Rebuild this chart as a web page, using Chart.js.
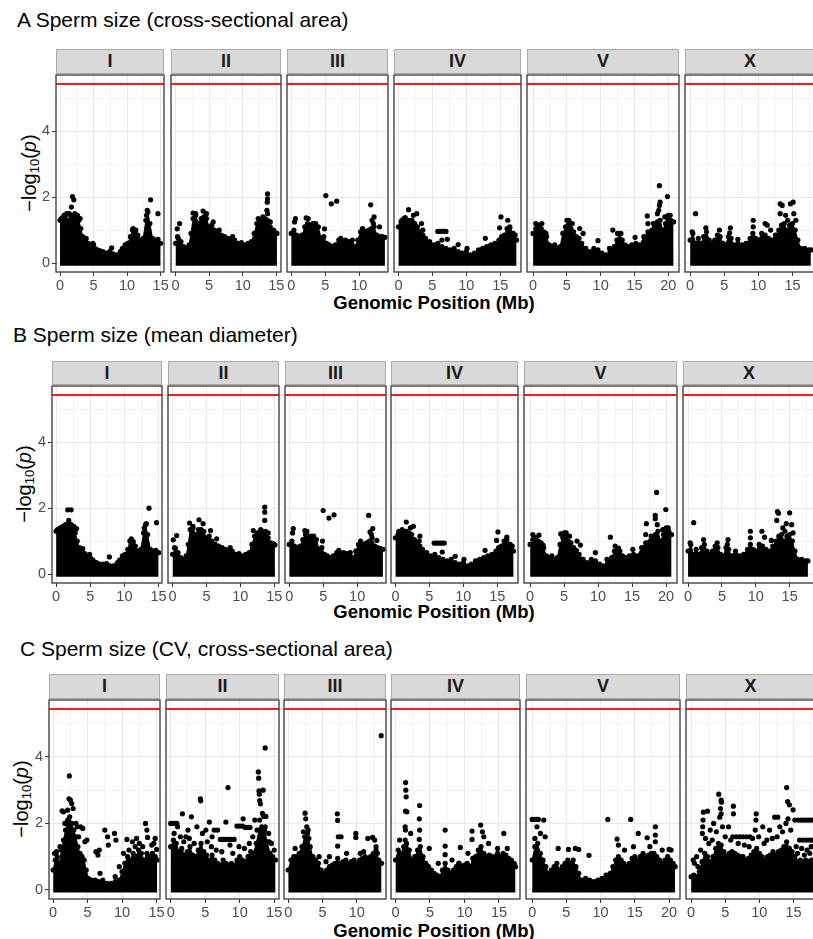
<!DOCTYPE html>
<html>
<head>
<meta charset="utf-8">
<script src="https://cdn.jsdelivr.net/npm/chart.js@4.4.1/dist/chart.umd.min.js"></script>
<style>
  body { margin: 0; width: 813px; height: 939px; overflow: hidden; background: #fff;
         position: relative; font-family: 'Liberation Sans', Arial, sans-serif; }
  canvas { position: absolute; }
  .title { position: absolute; font-size: 21px; line-height: 21px; color: #000; white-space: nowrap; }
  .strip { position: absolute; box-sizing: border-box; background: #d9d9d9; border: 1px solid #aaa;
           font-weight: bold; font-size: 18px; color: #1a1a1a; display: flex;
           align-items: center; justify-content: center; }
  .ytitle { position: absolute; font-size: 20px; white-space: nowrap; color: #000;
            transform: translate(-50%, -50%) rotate(-90deg); }
  .ytitle sub { font-size: 0.65em; vertical-align: -0.25em; }
  .xtitle { position: absolute; font-size: 18.5px; font-weight: bold; white-space: nowrap;
            transform: translate(-50%, -50%); }
</style>
</head>
<body>
<script>
// 染色体ごとのパネル
const chromosomes = ['I', 'II', 'III', 'IV', 'V', 'X'];
const xMin = [-0.6, -0.68, -0.62, -0.65, -0.9, -0.75];
const xMax = [15.5, 15.7, 14.25, 18.05, 21.6, 18.6];
const threshold = 5.44;
const xMajorTicks = [0, 5, 10, 15, 20];
const xMinorTicks = [2.5, 7.5, 12.5, 17.5];
const yMajorTicks = [0, 2, 4];
const yMinorTicks = [1, 3, 5];
const panelTitles = ['A Sperm size (cross-sectional area)', 'B Sperm size (mean diameter)', 'C Sperm size (CV, cross-sectional area)'];

// A: 密集部分の上端 (core) と散らばった点 (dots)  [Mb, -log10 p]
const areaCoreI = [[0,1.3],[0.4,1.38],[0.8,1.42],[1.2,1.3],[1.6,1.45],[2.0,1.35],[2.4,1.4],[2.8,1.3],[3.1,1.05],[3.4,0.8],[3.8,0.7],[4.2,0.6],[4.6,0.55],[5.0,0.55],[5.4,0.42],[5.9,0.38],[6.4,0.35],[6.9,0.3],[7.4,0.35],[7.9,0.28],[8.4,0.25],[8.9,0.28],[9.3,0.45],[9.7,0.55],[10.1,0.6],[10.5,0.8],[10.8,1.0],[11.2,0.95],[11.6,0.85],[12.0,0.7],[12.4,0.75],[12.8,1.3],[13.1,1.55],[13.4,1.2],[13.8,0.75],[14.2,0.7],[14.6,0.72],[15.0,0.6]];
const areaDotsI = [[1.86,2.02],[2.06,1.92],[1.7,1.7],[1.37,1.5],[1.0,1.5],[3.0,1.35],[2.6,1.45],[3.9,0.75],[4.9,0.6],[7.7,0.46],[9.0,0.35],[10.9,1.05],[11.3,1.0],[12.9,1.45],[13.0,1.6],[13.5,1.92],[14.6,1.5],[0.2,1.35],[0.6,1.45],[2.2,1.5]];
const areaCoreII = [[0,0.6],[0.4,0.75],[0.8,0.65],[1.2,0.5],[1.6,0.45],[2.0,0.55],[2.3,0.9],[2.6,1.35],[3.0,1.45],[3.4,1.2],[3.8,1.35],[4.2,1.4],[4.6,1.35],[5.0,1.1],[5.4,1.15],[5.8,1.0],[6.3,0.9],[6.8,0.85],[7.3,0.8],[7.8,0.75],[8.3,0.7],[8.8,0.7],[9.3,0.6],[9.8,0.62],[10.3,0.55],[10.8,0.6],[11.3,0.65],[11.7,0.9],[12.1,1.2],[12.5,1.3],[12.9,1.25],[13.3,1.35],[13.7,1.3],[14.1,1.1],[14.5,0.95],[14.9,0.92],[15.1,0.9]];
const areaDotsII = [[0.25,1.04],[0.6,1.2],[0.3,0.8],[2.6,1.52],[3.0,1.5],[4.1,1.58],[4.6,1.5],[5.6,1.25],[6.5,1.0],[8.5,0.8],[12.3,1.35],[13.7,2.1],[13.7,1.95],[13.65,1.85],[13.6,1.6],[13.7,1.5],[14.1,1.25],[14.6,1.0],[13.0,1.4]];
const areaCoreIII = [[0,0.9],[0.4,1.0],[0.8,0.85],[1.2,0.8],[1.6,0.85],[2.0,1.1],[2.4,1.2],[2.8,1.15],[3.2,1.2],[3.6,1.2],[4.0,1.1],[4.4,0.75],[4.8,0.8],[5.2,0.6],[5.6,0.55],[6.0,0.5],[6.5,0.55],[7.0,0.7],[7.5,0.65],[8.0,0.7],[8.5,0.65],[9.0,0.7],[9.4,0.5],[9.8,0.7],[10.2,0.95],[10.6,1.0],[11.0,0.95],[11.4,1.0],[11.8,1.05],[12.2,1.1],[12.6,0.85],[13.0,0.8],[13.4,0.8],[13.8,0.78]];
const areaDotsIII = [[0.63,1.35],[0.5,1.25],[2.2,1.37],[2.5,1.35],[3.3,1.2],[4.9,1.04],[5.1,2.05],[5.9,1.8],[6.7,1.88],[11.7,1.77],[12.2,1.4],[11.9,1.3],[12.1,1.2],[13.0,1.1],[7.3,0.75],[10.5,1.05]];
const areaCoreIV = [[0,1.1],[0.4,1.25],[0.8,1.35],[1.2,1.25],[1.6,1.3],[2.0,1.3],[2.4,1.2],[2.8,1.1],[3.2,0.95],[3.6,0.85],[4.0,0.75],[4.6,0.65],[5.2,0.55],[5.8,0.6],[6.4,0.5],[7.0,0.45],[7.6,0.4],[8.2,0.45],[8.8,0.35],[9.4,0.3],[10.0,0.35],[10.6,0.25],[11.2,0.3],[11.8,0.4],[12.4,0.45],[13.0,0.5],[13.6,0.55],[14.2,0.6],[14.8,0.7],[15.2,0.8],[15.6,0.85],[16.0,1.05],[16.4,1.1],[16.8,0.9],[17.2,0.85],[17.4,0.7]];
const areaDotsIV = [[1.5,1.62],[2.7,1.5],[2.2,1.45],[0.5,1.3],[1.0,1.38],[3.4,1.2],[3.6,1.0],[5.8,0.96],[6.1,0.96],[6.4,0.96],[6.7,0.96],[7.0,0.96],[6.4,0.7],[7.2,0.72],[8.8,0.56],[10.1,0.45],[12.8,0.75],[15.1,1.4],[16.1,1.3],[16.4,1.07],[14.9,1.07],[16.9,0.9]];
const areaCoreV = [[0,0.9],[0.4,1.05],[0.8,1.1],[1.2,1.05],[1.6,0.95],[2.0,0.8],[2.4,0.55],[2.8,0.5],[3.2,0.55],[3.6,0.45],[4.0,0.5],[4.4,0.9],[4.8,1.1],[5.2,1.15],[5.6,1.05],[6.0,0.95],[6.4,0.8],[6.8,0.75],[7.2,0.6],[7.8,0.45],[8.4,0.35],[9.0,0.45],[9.6,0.4],[10.2,0.3],[10.8,0.25],[11.4,0.35],[12.0,0.5],[12.4,0.7],[12.8,0.75],[13.2,0.7],[13.6,0.55],[14.0,0.5],[14.6,0.55],[15.2,0.6],[15.8,0.55],[16.4,0.8],[17.0,0.95],[17.6,1.0],[18.0,1.1],[18.4,1.25],[18.8,1.3],[19.2,1.0],[19.6,1.2],[20.0,1.3],[20.4,1.3],[20.8,1.25]];
const areaDotsV = [[0.4,1.2],[1.3,1.2],[0.8,1.15],[1.9,0.9],[5.0,1.3],[5.3,1.3],[5.8,1.2],[6.9,1.05],[7.4,0.9],[9.6,0.68],[11.3,0.45],[11.8,1.0],[12.5,0.9],[13.0,0.9],[15.1,0.78],[16.9,1.43],[17.0,1.2],[18.6,1.6],[18.7,1.75],[18.8,1.85],[18.7,2.35],[19.9,2.02],[18.4,1.5],[20.3,1.45],[20.0,1.45],[19.5,1.4],[17.8,1.2]];
const areaCoreX = [[0,0.7],[0.4,0.9],[0.8,0.6],[1.2,0.75],[1.6,0.6],[2.0,0.8],[2.4,0.95],[2.8,0.7],[3.2,0.6],[3.6,0.7],[4.0,0.85],[4.4,0.8],[4.8,0.6],[5.2,0.55],[5.6,0.8],[6.0,0.75],[6.4,0.55],[7.0,0.6],[7.6,0.55],[8.2,0.6],[8.8,0.75],[9.2,0.9],[9.6,0.75],[10.0,0.7],[10.5,0.9],[11.0,0.85],[11.5,0.75],[12.0,0.7],[12.5,0.85],[13.0,1.0],[13.4,1.15],[13.8,1.2],[14.2,1.0],[14.6,1.15],[15.0,1.2],[15.4,1.0],[15.8,0.7],[16.2,0.45],[16.8,0.45],[17.4,0.4],[17.7,0.4]];
const areaDotsX = [[0.8,1.5],[0.3,0.95],[2.3,1.07],[4.3,1.0],[5.9,1.07],[5.8,0.92],[7.0,0.72],[9.25,1.3],[9.25,1.1],[11.0,1.2],[11.3,1.15],[11.8,1.0],[13.2,1.8],[13.5,1.75],[14.7,1.8],[15.1,1.85],[13.2,1.5],[14.3,1.3],[15.2,1.5],[15.5,1.3],[14.0,1.45]];

// B: mean diameter
const diamCoreI = [[0,1.3],[0.4,1.35],[0.8,1.4],[1.2,1.35],[1.6,1.5],[2.0,1.4],[2.4,1.35],[2.8,1.25],[3.1,1.0],[3.4,0.8],[3.8,0.7],[4.2,0.62],[4.6,0.55],[5.0,0.5],[5.4,0.42],[5.9,0.35],[6.4,0.3],[6.9,0.3],[7.4,0.32],[7.9,0.25],[8.4,0.25],[8.9,0.3],[9.3,0.42],[9.7,0.55],[10.1,0.6],[10.5,0.75],[10.8,1.0],[11.2,1.0],[11.6,0.85],[12.0,0.7],[12.4,0.75],[12.8,1.25],[13.1,1.5],[13.4,1.2],[13.8,0.75],[14.2,0.7],[14.6,0.72],[15.0,0.65]];
const diamDotsI = [[1.7,1.95],[2.2,1.95],[1.85,1.63],[1.37,1.5],[1.0,1.45],[3.0,1.38],[2.6,1.45],[3.9,0.77],[4.9,0.6],[7.8,0.52],[9.0,0.35],[11.0,1.07],[11.3,0.98],[12.9,1.4],[13.2,1.53],[13.6,2.0],[14.7,1.56],[0.2,1.35],[0.6,1.4],[2.2,1.5]];
const diamCoreII = [[0,0.6],[0.4,0.78],[0.8,0.65],[1.2,0.5],[1.6,0.45],[2.0,0.55],[2.3,0.9],[2.6,1.35],[3.0,1.4],[3.4,1.2],[3.8,1.35],[4.2,1.35],[4.6,1.3],[5.0,1.1],[5.4,1.15],[5.8,1.0],[6.3,0.9],[6.8,0.85],[7.3,0.8],[7.8,0.75],[8.3,0.72],[8.8,0.7],[9.3,0.6],[9.8,0.62],[10.3,0.55],[10.8,0.6],[11.3,0.65],[11.7,0.9],[12.1,1.15],[12.5,1.25],[12.9,1.25],[13.3,1.3],[13.7,1.3],[14.1,1.1],[14.5,0.95],[14.9,0.9],[15.1,0.88]];
const diamDotsII = [[0.1,1.04],[0.6,1.17],[0.3,0.8],[2.5,1.55],[3.0,1.45],[3.9,1.65],[4.5,1.53],[5.6,1.32],[6.5,1.07],[8.5,0.8],[11.9,1.32],[13.6,2.03],[13.6,1.88],[13.6,1.63],[13.4,1.17],[14.9,0.92],[14.1,1.25],[13.0,1.35]];
const diamCoreIII = [[0,0.9],[0.4,1.0],[0.8,0.85],[1.2,0.8],[1.6,0.85],[2.0,1.05],[2.4,1.2],[2.8,1.15],[3.2,1.15],[3.6,1.15],[4.0,1.05],[4.4,0.75],[4.8,0.8],[5.2,0.6],[5.6,0.55],[6.0,0.5],[6.5,0.55],[7.0,0.65],[7.5,0.62],[8.0,0.65],[8.5,0.62],[9.0,0.65],[9.4,0.5],[9.8,0.7],[10.2,0.9],[10.6,0.95],[11.0,0.9],[11.4,0.95],[11.8,1.0],[12.2,1.1],[12.6,0.85],[13.0,0.8],[13.4,0.78],[13.8,0.75]];
const diamDotsIII = [[0.6,1.38],[0.5,1.25],[2.3,1.32],[2.6,1.3],[3.5,1.12],[4.9,1.0],[5.0,1.93],[5.85,1.7],[6.6,1.8],[11.7,1.78],[12.3,1.38],[11.9,1.28],[12.1,1.2],[12.9,1.02],[7.3,0.72],[10.5,1.0]];
const diamCoreIV = [[0,1.1],[0.4,1.2],[0.8,1.3],[1.2,1.25],[1.6,1.3],[2.0,1.25],[2.4,1.2],[2.8,1.05],[3.2,0.95],[3.6,0.85],[4.0,0.75],[4.6,0.65],[5.2,0.55],[5.8,0.6],[6.4,0.5],[7.0,0.45],[7.6,0.4],[8.2,0.45],[8.8,0.35],[9.4,0.3],[10.0,0.35],[10.6,0.25],[11.2,0.3],[11.8,0.4],[12.4,0.45],[13.0,0.5],[13.6,0.55],[14.2,0.6],[14.8,0.7],[15.2,0.8],[15.6,0.85],[16.0,1.0],[16.4,1.05],[16.8,0.9],[17.2,0.85],[17.4,0.7]];
const diamDotsIV = [[1.6,1.58],[2.65,1.45],[2.2,1.4],[0.5,1.3],[1.0,1.35],[3.5,1.0],[3.6,1.15],[5.7,0.94],[6.0,0.94],[6.3,0.94],[6.6,0.94],[6.9,0.94],[7.2,0.94],[6.9,0.67],[8.8,0.54],[10.1,0.45],[13.2,0.72],[15.1,1.28],[16.4,1.12],[14.9,1.02],[16.9,0.9]];
const diamCoreV = [[0,0.9],[0.4,1.05],[0.8,1.1],[1.2,1.0],[1.6,0.95],[2.0,0.8],[2.4,0.55],[2.8,0.5],[3.2,0.55],[3.6,0.45],[4.0,0.5],[4.4,0.9],[4.8,1.1],[5.2,1.12],[5.6,1.0],[6.0,0.95],[6.4,0.8],[6.8,0.72],[7.2,0.6],[7.8,0.45],[8.4,0.35],[9.0,0.45],[9.6,0.4],[10.2,0.3],[10.8,0.25],[11.4,0.35],[12.0,0.5],[12.4,0.7],[12.8,0.72],[13.2,0.7],[13.6,0.55],[14.0,0.5],[14.6,0.55],[15.2,0.6],[15.8,0.55],[16.4,0.8],[17.0,0.95],[17.6,1.0],[18.0,1.1],[18.4,1.2],[18.8,1.3],[19.2,1.0],[19.6,1.2],[20.0,1.25],[20.4,1.3],[20.8,1.2]];
const diamDotsV = [[0.4,1.2],[1.3,1.18],[0.8,1.1],[1.9,0.88],[4.5,1.22],[5.0,1.25],[5.3,1.25],[5.8,1.15],[6.9,1.0],[7.4,0.88],[9.6,0.65],[11.3,0.45],[11.8,1.12],[13.0,0.79],[12.5,0.85],[15.1,0.75],[17.1,1.53],[17.0,1.2],[18.4,1.78],[18.4,1.68],[18.6,2.48],[19.95,1.96],[18.7,1.5],[20.3,1.4],[20.0,1.4],[19.5,1.35],[17.8,1.15]];
const diamCoreX = [[0,0.7],[0.4,0.9],[0.8,0.6],[1.2,0.75],[1.6,0.6],[2.0,0.8],[2.4,0.9],[2.8,0.7],[3.2,0.6],[3.6,0.7],[4.0,0.85],[4.4,0.8],[4.8,0.6],[5.2,0.55],[5.6,0.8],[6.0,0.75],[6.4,0.55],[7.0,0.6],[7.6,0.55],[8.2,0.6],[8.8,0.75],[9.2,0.9],[9.6,0.75],[10.0,0.7],[10.5,0.9],[11.0,0.85],[11.5,0.75],[12.0,0.7],[12.5,0.85],[13.0,1.0],[13.4,1.15],[13.8,1.2],[14.2,1.0],[14.6,1.15],[15.0,1.2],[15.4,1.0],[15.8,0.7],[16.2,0.45],[16.8,0.45],[17.4,0.4],[17.7,0.4]];
const diamDotsX = [[0.83,1.56],[0.3,0.95],[2.3,1.05],[4.3,0.95],[5.9,1.05],[5.8,0.9],[7.0,0.7],[9.2,1.3],[9.2,1.1],[10.9,1.3],[11.3,1.12],[12.3,1.02],[13.2,1.9],[13.35,1.85],[15.0,1.86],[13.1,1.63],[14.5,1.53],[15.3,1.5],[14.3,1.3],[15.5,1.25],[14.0,1.4]];

// C: CV, cross-sectional area
const cvCoreI = [[0,0.6],[0.3,0.9],[0.6,1.0],[0.9,0.8],[1.2,1.2],[1.5,1.5],[1.8,1.8],[2.1,2.1],[2.4,2.2],[2.7,2.0],[3.0,1.8],[3.3,1.6],[3.6,1.3],[3.9,1.1],[4.2,1.0],[4.5,0.9],[4.8,0.6],[5.1,0.35],[5.6,0.3],[6.1,0.3],[6.6,0.25],[7.2,0.3],[7.8,0.2],[8.4,0.2],[9.0,0.25],[9.6,0.3],[10.0,0.55],[10.4,0.8],[10.8,1.0],[11.2,0.9],[11.6,1.1],[12.0,1.0],[12.4,1.2],[12.8,1.1],[13.2,0.9],[13.6,1.1],[14.0,1.0],[14.4,1.1],[14.8,1.0],[15.1,0.9]];
const cvDotsI = [[2.35,3.43],[2.3,2.74],[2.5,2.7],[2.7,2.6],[2.9,2.45],[2.1,2.4],[1.3,2.38],[1.5,2.35],[3.5,1.9],[4.0,1.9],[4.3,1.85],[4.9,1.5],[4.6,1.45],[6.2,1.15],[6.7,1.2],[6.5,1.05],[6.8,0.5],[7.5,1.8],[7.9,1.6],[8.0,1.35],[8.9,1.7],[9.1,1.5],[9.6,0.7],[9.0,0.4],[10.7,1.52],[11.5,1.45],[12.1,1.55],[13.4,2.0],[13.6,1.8],[13.7,1.58],[14.8,1.55],[15.0,1.22],[0.2,1.1],[0.5,1.15],[3.1,1.3],[3.7,1.6],[11.0,1.2],[12.5,1.4],[1.0,1.3],[1.7,2.0],[3.3,2.0],[10.2,1.1],[11.9,1.3],[13.0,1.3],[14.3,1.35],[14.6,1.4]];
const cvCoreII = [[0,1.3],[0.4,1.5],[0.8,1.4],[1.2,1.15],[1.6,1.25],[2.0,1.05],[2.4,1.15],[2.8,1.3],[3.2,1.05],[3.6,1.0],[4.0,1.2],[4.4,1.4],[4.8,1.15],[5.2,1.05],[5.6,0.9],[6.0,1.05],[6.4,0.9],[6.8,0.8],[7.2,0.75],[7.6,0.9],[8.0,0.8],[8.4,0.75],[8.8,0.8],[9.2,0.75],[9.6,0.9],[10.0,1.0],[10.4,0.9],[10.8,0.85],[11.2,1.0],[11.6,1.15],[12.0,1.1],[12.4,1.4],[12.8,1.8],[13.2,1.9],[13.6,1.8],[14.0,1.45],[14.4,1.1],[14.8,1.0],[15.2,0.9]];
const cvDotsII = [[13.7,4.27],[12.7,3.55],[12.75,3.36],[13.4,3.0],[12.8,2.98],[12.85,2.88],[12.9,2.69],[13.0,2.59],[13.5,2.21],[13.8,2.21],[8.3,3.08],[4.3,2.74],[4.35,2.68],[0.0,2.0],[0.3,2.0],[0.6,2.0],[0.9,2.0],[1.7,2.29],[3.0,2.2],[2.5,1.8],[5.6,2.04],[5.1,1.8],[6.3,1.8],[6.8,1.8],[7.2,1.52],[7.6,1.52],[8.0,1.52],[8.4,1.52],[8.8,1.52],[9.2,1.52],[8.0,2.04],[8.6,1.35],[9.6,1.92],[10.0,1.92],[10.4,1.92],[10.8,1.88],[11.2,1.88],[11.5,1.88],[10.5,2.14],[12.2,2.1],[14.2,1.7],[14.6,1.4],[3.8,1.9],[2.2,1.6],[1.0,1.9],[6.0,1.6],[0.5,1.7],[1.4,1.6],[1.9,1.45],[2.7,1.55],[3.4,1.4],[4.6,1.7],[5.3,1.45],[5.9,1.3],[6.6,1.2],[7.4,1.15],[9.0,1.1],[9.9,1.3],[10.7,1.25],[11.4,1.4],[11.9,1.6],[12.5,1.8],[12.9,2.1],[13.3,2.3],[13.7,1.9],[14.3,1.45],[15.0,1.2]];
const cvCoreIII = [[0,0.6],[0.4,0.9],[0.8,1.0],[1.2,1.0],[1.6,1.1],[2.0,1.3],[2.4,1.6],[2.8,1.7],[3.2,1.3],[3.6,1.0],[4.0,0.9],[4.4,0.8],[4.8,0.6],[5.2,0.5],[5.6,0.6],[6.0,0.7],[6.4,0.75],[6.8,0.8],[7.2,0.95],[7.6,0.8],[8.0,0.85],[8.4,0.9],[8.8,0.8],[9.2,0.85],[9.6,0.9],[10.0,0.8],[10.4,0.9],[10.8,0.95],[11.2,1.0],[11.6,0.95],[12.0,1.0],[12.4,1.1],[12.8,1.2],[13.2,0.9],[13.6,0.8]];
const cvDotsIII = [[13.55,4.64],[2.45,2.31],[2.55,2.14],[2.7,1.9],[2.9,1.8],[2.2,1.75],[3.0,1.55],[7.15,2.29],[7.2,2.09],[7.3,1.6],[7.7,1.6],[7.2,1.32],[9.85,1.7],[9.85,1.58],[11.6,1.55],[12.3,1.58],[12.6,1.5],[12.8,1.3],[13.0,1.1],[1.0,1.25],[4.5,1.0],[5.5,0.85],[6.0,1.0],[8.5,1.1],[10.5,1.1],[11.0,1.15]];
const cvCoreIV = [[0,0.9],[0.4,1.2],[0.8,1.1],[1.2,1.3],[1.6,1.4],[2.0,1.2],[2.4,0.9],[2.8,1.0],[3.2,1.2],[3.6,1.3],[4.0,1.0],[4.4,0.8],[4.8,0.7],[5.2,0.6],[5.6,0.5],[6.0,0.45],[6.4,0.4],[6.8,0.6],[7.2,0.8],[7.6,0.6],[8.0,0.5],[8.4,0.6],[8.8,0.7],[9.2,0.8],[9.6,0.7],[10.0,0.75],[10.4,0.8],[10.8,0.7],[11.2,0.95],[11.6,1.0],[12.0,1.2],[12.4,1.3],[12.8,1.1],[13.2,1.0],[13.6,1.05],[14.0,1.0],[14.4,1.0],[14.8,1.1],[15.2,1.0],[15.6,1.1],[16.0,1.05],[16.4,0.95],[16.8,0.9],[17.2,0.8],[17.4,0.7]];
const cvDotsIV = [[1.47,3.23],[1.5,3.0],[1.55,2.8],[1.45,2.37],[1.65,2.35],[1.4,1.9],[1.45,1.8],[1.4,1.5],[3.5,2.54],[3.45,2.14],[3.5,1.8],[3.45,1.52],[4.9,1.25],[7.2,1.8],[7.2,1.32],[7.2,1.06],[9.4,1.28],[9.2,0.8],[11.1,1.77],[11.1,1.52],[12.35,1.95],[12.6,1.75],[12.8,1.6],[15.7,1.7],[16.2,1.25],[14.8,1.25],[2.2,1.7],[0.6,1.5],[13.5,1.4],[10.5,1.1],[8.2,0.9],[6.2,0.8]];
const cvCoreV = [[0,0.9],[0.4,1.3],[0.8,1.4],[1.2,1.1],[1.6,0.9],[2.0,0.7],[2.4,0.5],[2.8,0.6],[3.2,0.7],[3.6,0.8],[4.0,0.6],[4.4,0.7],[4.8,0.8],[5.2,0.9],[5.6,0.8],[6.0,0.9],[6.4,0.7],[6.8,0.5],[7.2,0.3],[7.8,0.35],[8.4,0.3],[9.0,0.25],[9.6,0.3],[10.2,0.35],[10.8,0.45],[11.4,0.5],[11.8,0.7],[12.2,0.9],[12.6,1.0],[13.0,0.9],[13.4,0.8],[13.8,0.7],[14.2,0.8],[14.6,0.95],[15.0,1.0],[15.4,0.9],[15.8,1.0],[16.2,1.1],[16.6,1.0],[17.0,1.05],[17.4,1.1],[17.8,1.1],[18.2,1.0],[18.6,0.9],[19.0,0.8],[19.4,0.9],[19.8,1.0],[20.2,0.9],[20.6,0.8],[20.9,0.7]];
const cvDotsV = [[0,2.12],[0.3,2.12],[0.6,2.12],[0.9,2.12],[1.7,2.1],[0.7,1.9],[1.2,1.7],[1.9,1.6],[0.4,1.55],[3.8,1.25],[5.3,1.22],[6.3,1.25],[6.8,1.22],[8.3,1.04],[11.05,2.12],[14.4,2.12],[12.4,1.53],[12.6,1.35],[15.5,1.7],[16.8,1.57],[18.0,1.9],[18.0,1.65],[18.0,1.45],[20.0,1.22],[20.3,1.2],[13.5,1.2],[17.2,1.3],[19.0,1.2],[14.8,1.3]];
const cvCoreX = [[0,0.4],[0.4,0.45],[0.8,0.4],[1.2,0.55],[1.6,0.85],[2.0,1.1],[2.4,1.0],[2.8,0.85],[3.2,1.0],[3.6,1.25],[4.0,1.4],[4.4,1.35],[4.8,1.15],[5.2,1.0],[5.6,1.1],[6.0,1.15],[6.4,1.1],[6.8,1.05],[7.2,1.0],[7.6,1.0],[8.0,0.9],[8.4,0.95],[8.8,1.05],[9.2,1.15],[9.6,1.25],[10.0,1.1],[10.4,1.0],[10.8,0.9],[11.2,1.0],[11.6,1.05],[12.0,1.15],[12.4,1.05],[12.8,1.15],[13.2,1.2],[13.6,1.3],[14.0,1.45],[14.4,1.25],[14.8,1.15],[15.2,1.0],[15.6,0.85],[16.0,0.9],[16.4,0.85],[16.8,0.9],[17.2,0.85],[17.6,0.9],[17.9,0.9]];
const cvDotsX = [[14.0,3.08],[4.05,2.88],[4.4,2.7],[4.45,2.64],[4.3,2.45],[4.4,2.29],[4.2,2.19],[2.4,2.37],[1.8,2.34],[1.75,2.1],[1.7,1.9],[1.65,1.7],[6.2,2.52],[6.2,2.29],[9.55,2.29],[9.5,2.1],[9.4,1.8],[12.25,2.19],[12.7,2.19],[14.15,2.66],[14.4,2.56],[14.95,2.41],[14.2,2.14],[15.2,2.1],[15.7,2.1],[16.1,2.1],[16.5,2.1],[16.9,2.1],[17.3,2.1],[17.7,2.1],[15.9,1.5],[16.4,1.5],[16.9,1.5],[17.4,1.5],[17.8,1.5],[6.1,1.6],[6.6,1.6],[7.1,1.6],[7.6,1.6],[8.1,1.6],[8.6,1.6],[2.8,1.8],[3.3,2.0],[5.5,1.9],[10.5,1.9],[11.5,1.8],[13.0,1.9],[0.3,0.9],[0.8,1.0],[1.0,0.7],[0.5,0.8],[1.4,1.2],[2.1,1.55],[2.6,1.4],[3.1,1.5],[3.7,1.75],[4.6,1.9],[5.0,1.6],[5.8,1.5],[6.9,1.4],[7.8,1.35],[8.5,1.3],[9.0,1.55],[9.9,1.6],[10.7,1.4],[11.1,1.5],[11.9,1.55],[12.6,1.6],[13.4,1.75],[13.9,2.0],[14.6,1.8],[15.4,1.3],[16.2,1.25],[17.0,1.2],[17.6,1.3],[15.6,1.1],[16.6,1.05],[17.4,1.1]];

const cores = [
  [areaCoreI, areaCoreII, areaCoreIII, areaCoreIV, areaCoreV, areaCoreX],
  [diamCoreI, diamCoreII, diamCoreIII, diamCoreIV, diamCoreV, diamCoreX],
  [cvCoreI, cvCoreII, cvCoreIII, cvCoreIV, cvCoreV, cvCoreX]
];
const dots = [
  [areaDotsI, areaDotsII, areaDotsIII, areaDotsIV, areaDotsV, areaDotsX],
  [diamDotsI, diamDotsII, diamDotsIII, diamDotsIV, diamDotsV, diamDotsX],
  [cvDotsI, cvDotsII, cvDotsIII, cvDotsIV, cvDotsV, cvDotsX]
];

// レイアウト (px)
const rows = [
  { titleX: 17, titleY: 20.7, stripTop: 49, panelTop: 73, panelBottom: 272, yTitleX: 30, xTitleY: 303,
    lefts: [56, 171, 287, 394, 527, 685], rights: [164, 281, 388, 521, 679, 817] },
  { titleX: 13, titleY: 335, stripTop: 361, panelTop: 384, panelBottom: 583, yTitleX: 25, xTitleY: 612,
    lefts: [52, 168, 285, 391, 524, 683], rights: [162, 279, 386, 518, 677, 814] },
  { titleX: 20, titleY: 649, stripTop: 674, panelTop: 698, panelBottom: 899, yTitleX: 22, xTitleY: 931,
    lefts: [49, 166, 284, 391, 526, 686], rights: [160, 279, 386, 520, 680, 818] }
];
const PAD = 12, AXIS_H = 24, Y_W = 30, TOP_PAD = 2;

Chart.defaults.font.family = "'Liberation Sans', Arial, sans-serif";

const panelBorder = {
  id: 'panelBorder',
  afterDraw(chart) {
    const a = chart.chartArea, ctx = chart.ctx;
    ctx.save();
    ctx.strokeStyle = '#444';
    ctx.lineWidth = 1.4;
    ctx.strokeRect(a.left, a.top, a.right - a.left, a.bottom - a.top);
    ctx.restore();
  }
};

function addDiv(cls, html, style) {
  const d = document.createElement('div');
  d.className = cls;
  d.innerHTML = html;
  Object.assign(d.style, style);
  document.body.appendChild(d);
  return d;
}

const isMajorX = v => xMajorTicks.includes(v);
const isMajorY = v => yMajorTicks.includes(v);

function drawFacet(r, c) {
  const L = rows[r];
  const yW = c === 0 ? Y_W : 0;
  const left = L.lefts[c], right = L.rights[c];
  const cv = document.createElement('canvas');
  cv.width = right - left + yW + 2 * PAD;
  cv.height = L.panelBottom - L.panelTop + AXIS_H + TOP_PAD;
  cv.style.left = (left - yW - PAD) + 'px';
  cv.style.top = (L.panelTop - TOP_PAD) + 'px';
  document.body.appendChild(cv);

  new Chart(cv, {
    type: 'scatter',
    data: {
      datasets: [
        { type: 'line', data: cores[r][c], borderColor: '#000', borderWidth: 1, backgroundColor: '#000',
          fill: { value: -0.08 }, pointRadius: 2.6, pointBackgroundColor: '#000', pointBorderWidth: 0, tension: 0 },
        { type: 'scatter', data: dots[r][c], pointRadius: 2.6, backgroundColor: '#000', borderWidth: 0 },
        { type: 'line', data: [[xMin[c], threshold], [xMax[c], threshold]], borderColor: '#ff1a1a',
          borderWidth: 2, pointRadius: 0, fill: false }
      ]
    },
    options: {
      responsive: false,
      animation: false,
      events: [],
      layout: { padding: { left: PAD, right: PAD, top: TOP_PAD, bottom: 0 } },
      plugins: { legend: { display: false }, tooltip: { enabled: false } },
      scales: {
        x: {
          type: 'linear', min: xMin[c], max: xMax[c],
          afterBuildTicks: s => {
            s.ticks = xMajorTicks.concat(xMinorTicks).sort((a, b) => a - b)
              .filter(v => v >= xMin[c] && v <= xMax[c]).map(v => ({ value: v }));
          },
          afterFit: s => { s.height = AXIS_H; s.paddingLeft = 0; s.paddingRight = 0; },
          ticks: { autoSkip: false, maxRotation: 0, padding: 1, color: '#4d4d4d', font: { size: 14.5 },
                   callback: v => isMajorX(v) ? String(v) : '' },
          grid: { lineWidth: 1, tickLength: 4, tickWidth: 1,
                  color: ctx => ctx.tick && isMajorX(ctx.tick.value) ? '#e8e8e8' : '#f3f3f3',
                  tickColor: ctx => ctx.tick && isMajorX(ctx.tick.value) ? '#333' : 'rgba(0,0,0,0)' },
          border: { display: false }
        },
        y: {
          type: 'linear', min: -0.272, max: 5.712,
          afterBuildTicks: s => {
            s.ticks = yMajorTicks.concat(yMinorTicks).sort((a, b) => a - b).map(v => ({ value: v }));
          },
          afterFit: s => { s.width = yW; s.paddingTop = 0; s.paddingBottom = 0; },
          ticks: { display: c === 0, padding: 2, color: '#4d4d4d', font: { size: 14.5 },
                   callback: v => isMajorY(v) ? String(v) : '' },
          grid: { lineWidth: 1, drawTicks: c === 0, tickLength: 4, tickWidth: 1,
                  color: ctx => ctx.tick && isMajorY(ctx.tick.value) ? '#e8e8e8' : '#f3f3f3',
                  tickColor: ctx => ctx.tick && isMajorY(ctx.tick.value) ? '#333' : 'rgba(0,0,0,0)' },
          border: { display: false }
        }
      }
    },
    plugins: [panelBorder]
  });

  addDiv('strip', chromosomes[c], {
    left: left + 'px', top: L.stripTop + 'px',
    width: (Math.min(right, 813) - left + (right > 813 ? 2 : 0)) + 'px',
    height: (L.panelTop - L.stripTop + 1) + 'px'
  });
}

rows.forEach((L, r) => {
  addDiv('title', panelTitles[r], { left: L.titleX + 'px', top: (L.titleY - 11.5) + 'px' });
  addDiv('ytitle', '&minus;log<sub>10</sub>(<i>p</i>)',
         { left: L.yTitleX + 'px', top: ((L.panelTop + L.panelBottom) / 2) + 'px' });
  addDiv('xtitle', 'Genomic Position (Mb)', { left: '434px', top: L.xTitleY + 'px' });
  chromosomes.forEach((ch, c) => drawFacet(r, c));
});
</script>
</body>
</html>
